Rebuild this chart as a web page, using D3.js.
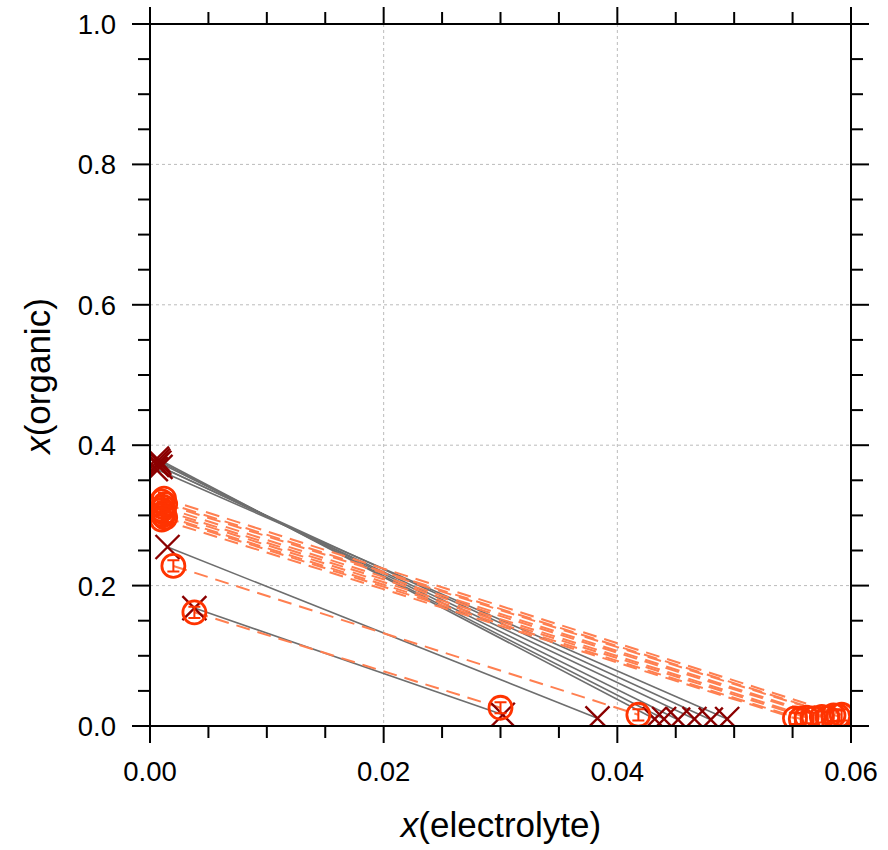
<!DOCTYPE html>
<html>
<head>
<meta charset="utf-8">
<script src="https://cdn.jsdelivr.net/npm/d3@7"></script>
<style>
  body { margin: 0; background: #fff; }
  svg { display: block; font-family: "Liberation Sans", Arial, sans-serif; }
</style>
</head>
<body>
<svg id="chart" width="888" height="850"></svg>
<script>
// ---- Data ----
// Series A: crosses joined by solid grey tie lines
const crossLeftX  = [0.0006, 0.0007, 0.0008, 0.0006, 0.0009, 0.0005, 0.0015, 0.0038];
const crossLeftY  = [0.381, 0.378, 0.375, 0.372, 0.369, 0.366, 0.255, 0.168];
const crossRightX = [0.0432, 0.0440, 0.0452, 0.0466, 0.0480, 0.0494, 0.0383, 0.0302];
const crossRightY = [0.010, 0.010, 0.009, 0.010, 0.009, 0.010, 0.011, 0.016];

// Series B: circles (with y error bars) joined by dashed tie lines
const circLeftX  = [0.0012, 0.0010, 0.0013, 0.0011, 0.0010, 0.0012, 0.0011, 0.0013, 0.0010, 0.0020, 0.0038];
const circLeftY  = [0.324, 0.320, 0.316, 0.312, 0.308, 0.304, 0.300, 0.297, 0.294, 0.228, 0.162];
const circRightX = [0.0592, 0.0589, 0.0585, 0.0580, 0.0575, 0.0568, 0.0562, 0.0557, 0.0552, 0.0418, 0.0300];
const circRightY = [0.016, 0.014, 0.015, 0.012, 0.013, 0.011, 0.012, 0.010, 0.011, 0.016, 0.026];
const circYErr   = [0.008, 0.008, 0.008, 0.008, 0.008, 0.008, 0.008, 0.008, 0.008, 0.008, 0.008];

const xTicks = [0.00, 0.02, 0.04, 0.06];
const xTickLabels = ["0.00", "0.02", "0.04", "0.06"];
const yTicks = [0.0, 0.2, 0.4, 0.6, 0.8, 1.0];
const yTickLabels = ["0.0", "0.2", "0.4", "0.6", "0.8", "1.0"];

// ---- Layout ----
const L = 150, R = 851, T = 24, B = 726;
const svg = d3.select("#chart");
const x = d3.scaleLinear().domain([0, 0.06]).range([L, R]);
const y = d3.scaleLinear().domain([0, 1.0]).range([B, T]);

// grid
const grid = svg.append("g");
[0.02, 0.04].forEach(v => grid.append("line")
  .attr("x1", x(v)).attr("x2", x(v)).attr("y1", T).attr("y2", B)
  .attr("stroke", "#bbb").attr("stroke-width", 1).attr("stroke-dasharray", "3,3"));
[0.2, 0.4, 0.6, 0.8].forEach(v => grid.append("line")
  .attr("x1", L).attr("x2", R).attr("y1", y(v)).attr("y2", y(v))
  .attr("stroke", "#bbb").attr("stroke-width", 1).attr("stroke-dasharray", "3,3"));

// clip
svg.append("clipPath").attr("id", "plotclip").append("rect")
  .attr("x", L).attr("y", T).attr("width", R - L).attr("height", B - T);
const plot = svg.append("g").attr("clip-path", "url(#plotclip)");

// solid grey tie lines
plot.selectAll("line.tieA").data(crossLeftX).join("line").attr("class", "tieA")
  .attr("x1", (d, i) => x(crossLeftX[i])).attr("y1", (d, i) => y(crossLeftY[i]))
  .attr("x2", (d, i) => x(crossRightX[i])).attr("y2", (d, i) => y(crossRightY[i]))
  .attr("stroke", "#6e6e6e").attr("stroke-width", 1.6);

// dashed coral tie lines
plot.selectAll("line.tieB").data(circLeftX).join("line").attr("class", "tieB")
  .attr("x1", (d, i) => x(circLeftX[i])).attr("y1", (d, i) => y(circLeftY[i]))
  .attr("x2", (d, i) => x(circRightX[i])).attr("y2", (d, i) => y(circRightY[i]))
  .attr("stroke", "#ff7f50").attr("stroke-width", 2).attr("stroke-dasharray", "14,8");

// crosses
const crossPts = [];
crossLeftX.forEach((v, i) => { crossPts.push([crossLeftX[i], crossLeftY[i]]); crossPts.push([crossRightX[i], crossRightY[i]]); });
const cs = 12;
plot.selectAll("path.cross").data(crossPts).join("path").attr("class", "cross")
  .attr("d", d => {
    const cx = x(d[0]), cy = y(d[1]);
    return `M${cx - cs},${cy - cs}L${cx + cs},${cy + cs}M${cx - cs},${cy + cs}L${cx + cs},${cy - cs}`;
  })
  .attr("stroke", "#8b0000").attr("stroke-width", 2.4).attr("fill", "none");

// circles with error bars
const circPts = [];
circLeftX.forEach((v, i) => {
  circPts.push([circLeftX[i], circLeftY[i], circYErr[i]]);
  circPts.push([circRightX[i], circRightY[i], circYErr[i]]);
});
const cap = 6;
plot.selectAll("path.err").data(circPts).join("path").attr("class", "err")
  .attr("d", d => {
    const cx = x(d[0]), y1 = y(d[1] + d[2]), y2 = y(d[1] - d[2]);
    return `M${cx},${y1}L${cx},${y2}M${cx - cap},${y1}L${cx + cap},${y1}M${cx - cap},${y2}L${cx + cap},${y2}`;
  })
  .attr("stroke", "#ff3300").attr("stroke-width", 2).attr("fill", "none");
plot.selectAll("circle.pt").data(circPts).join("circle").attr("class", "pt")
  .attr("cx", d => x(d[0])).attr("cy", d => y(d[1])).attr("r", 11.5)
  .attr("fill", "none").attr("stroke", "#ff3300").attr("stroke-width", 2.8);

// ---- Axes ----
const ax = svg.append("g").attr("stroke", "#000").attr("stroke-width", 2);
ax.append("rect").attr("x", L).attr("y", T).attr("width", R - L).attr("height", B - T).attr("fill", "none");

const xMinor = d3.range(0, 0.0601, 0.005);
const yMinor = d3.range(0, 1.0001, 0.05);
xMinor.forEach(v => {
  const major = Math.abs(Math.round(v / 0.02) * 0.02 - v) < 1e-9;
  const len = major ? 17 : 12;
  ax.append("line").attr("x1", x(v)).attr("x2", x(v)).attr("y1", B).attr("y2", B + len);
  ax.append("line").attr("x1", x(v)).attr("x2", x(v)).attr("y1", T).attr("y2", T - len);
});
yMinor.forEach(v => {
  const major = Math.abs(Math.round(v / 0.2) * 0.2 - v) < 1e-9;
  const len = major ? 18 : 12;
  ax.append("line").attr("x1", L - len).attr("x2", L).attr("y1", y(v)).attr("y2", y(v));
  ax.append("line").attr("x1", R).attr("x2", R + len).attr("y1", y(v)).attr("y2", y(v));
});

// tick labels
svg.append("g").selectAll("text").data(xTicks).join("text")
  .attr("x", d => x(d)).attr("y", 781)
  .attr("text-anchor", "middle").attr("font-size", 27.5).attr("fill", "#000")
  .text((d, i) => xTickLabels[i]);
svg.append("g").selectAll("text").data(yTicks).join("text")
  .attr("x", 116).attr("y", d => y(d)).attr("dy", "0.36em")
  .attr("text-anchor", "end").attr("font-size", 27.5).attr("fill", "#000")
  .text((d, i) => yTickLabels[i]);

// axis titles
const xt = svg.append("text").attr("x", 501).attr("y", 837).attr("text-anchor", "middle")
  .attr("font-size", 35).attr("fill", "#000");
xt.append("tspan").attr("font-style", "italic").text("x");
xt.append("tspan").text("(electrolyte)");

const yt = svg.append("text").attr("transform", "translate(50,376) rotate(-90)")
  .attr("text-anchor", "middle").attr("font-size", 35).attr("fill", "#000");
yt.append("tspan").attr("font-style", "italic").text("x");
yt.append("tspan").text("(organic)");
</script>
</body>
</html>
